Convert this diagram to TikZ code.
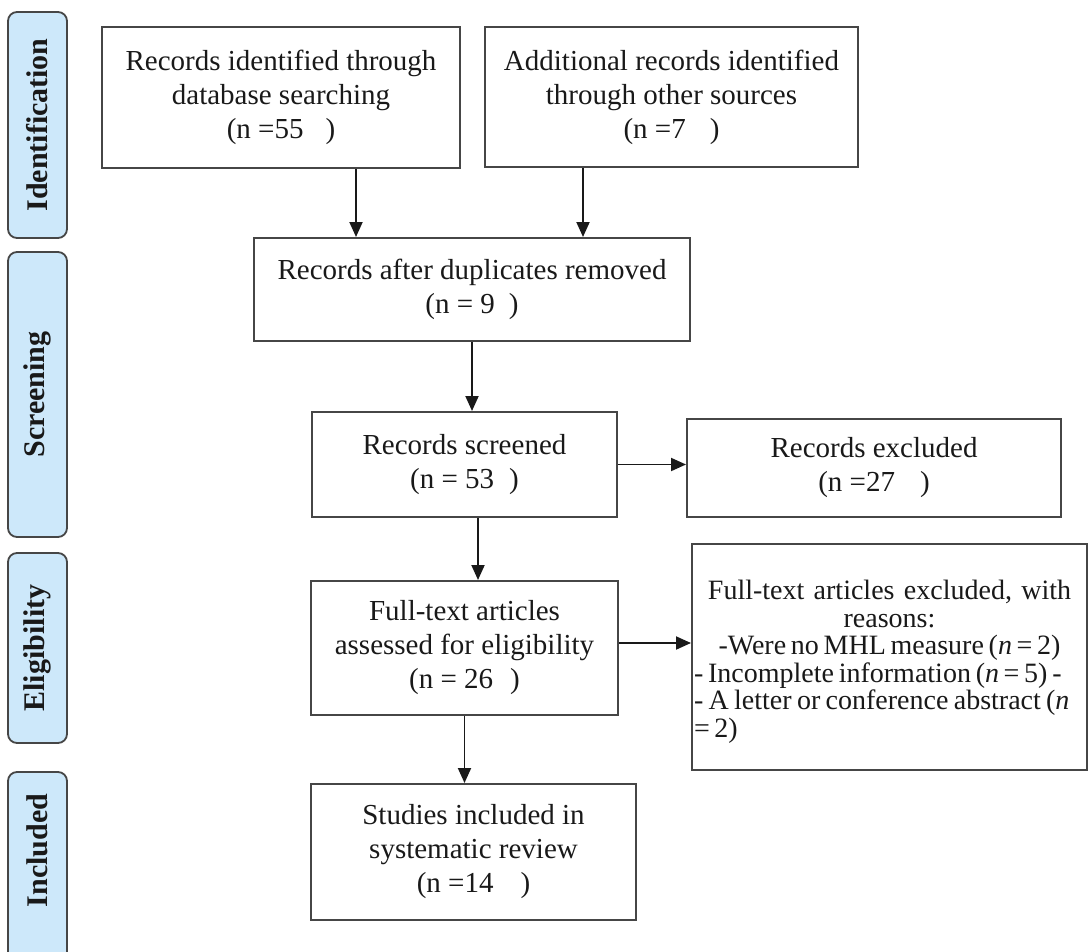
\documentclass[tikz,border=0pt]{standalone}
\usepackage{fontspec}
\setmainfont{Liberation Serif}
\usetikzlibrary{arrows.meta}
\definecolor{lblue}{RGB}{205,232,250}
\definecolor{bord}{RGB}{70,70,70}
\definecolor{txt}{RGB}{25,25,25}
\begin{document}
\begin{tikzpicture}[x=1pt,y=-1pt,
  box/.style={draw=bord,line width=2pt,fill=white,inner sep=0pt,align=center,text=txt,font=\fontsize{29}{34}\selectfont},
  side/.style={draw=bord,line width=1.8pt,fill=lblue,rounded corners=9pt,inner sep=0pt,rotate=90,text=txt,font=\fontsize{30}{32}\selectfont\bfseries},
  arr/.style={draw=txt,line width=1.9pt,-{Triangle[length=15pt,width=13pt]}}]
\useasboundingbox (0,0) rectangle (1089,952);
\clip (0,0) rectangle (1089,952);
\fill[white] (0,0) rectangle (1089,952);

% phase labels
\node[side,minimum width=226pt,minimum height=59pt] (l1) at (37.5,125) {Identification};
\node[side,minimum width=285pt,minimum height=59pt] (l2) at (37.5,394.5) {Screening};
\node[side,minimum width=190pt,minimum height=59pt] (l3) at (37.5,648) {Eligibility};
\node[side,minimum width=203pt,minimum height=59pt] (l4) at (37.5,873.5) {\hspace*{46pt}Included};

% boxes
\node[box,minimum width=358pt,minimum height=141pt] (b1) at (281,97.5)
  {Records identified through\\ database searching\\ (n =55\hspace{22pt})};
\node[box,minimum width=373pt,minimum height=140pt] (b2) at (671.5,97)
  {Additional records identified\\ through other sources\\ (n =7\hspace{24pt})};
\node[box,minimum width=436pt,minimum height=103pt] (dup) at (472,289.5)
  {Records after duplicates removed\\ (n = 9\hspace{14pt})};
\node[box,minimum width=305pt,minimum height=105pt] (scr) at (464.5,464.5)
  {Records screened\\ (n = 53\hspace{15pt})};
\node[box,minimum width=374pt,minimum height=98pt] (exc) at (874,468)
  {Records excluded\\ (n =27\hspace{25pt})};
\node[box,minimum width=307pt,minimum height=134pt] (ft) at (464.5,648)
  {Full-text articles\\ assessed for eligibility\\ (n = 26\hspace{17pt})};
\node[box,minimum width=395pt,minimum height=226pt,text width=391pt,
      font=\fontsize{28}{27.5}\selectfont] (fx) at (889.5,657)
  {\rule{0pt}{29pt}Full-text articles excluded, with\\ reasons:\\
   {\spaceskip=0.17em -Were no MHL measure (\textit{n}\,=\,2)}\\
   \makebox[\linewidth][l]{\spaceskip=0.17em - Incomplete information (\textit{n}\,=\,5) -}\\
   \makebox[\linewidth][l]{\spaceskip=0.19em - A letter or conference abstract (\textit{n}}\\
   \makebox[\linewidth][l]{=\,2)}};
\node[box,minimum width=325pt,minimum height=136pt] (st) at (473.5,852)
  {Studies included in\\ systematic review\\ (n =14\hspace{27pt})};

% connectors
\draw[arr] ([xshift=75pt]b1.south) -- ([xshift=75pt]b1.south |- dup.north);
\draw[arr] ([xshift=-88.5pt]b2.south) -- ([xshift=-88.5pt]b2.south |- dup.north);
\draw[arr] (dup.south) -- (dup.south |- scr.north);
\draw[arr] (scr.east) -- (scr.east -| exc.west);
\draw[arr] ([xshift=13.5pt]scr.south) -- ([xshift=13.5pt]scr.south |- ft.north);
\draw[arr] ([yshift=5pt]ft.east) -- ([yshift=5pt]ft.east -| fx.west);
\draw[arr] (ft.south) -- (ft.south |- st.north);
\end{tikzpicture}
\end{document}
